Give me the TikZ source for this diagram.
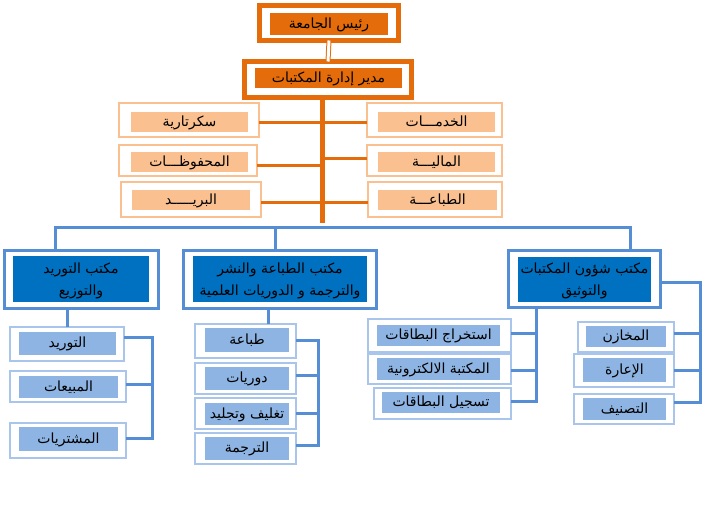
\documentclass[tikz,border=0pt]{standalone}
\usepackage{fontspec}
\newfontfamily\arabicfont[Script=Arabic]{DejaVu Sans}
\TeXXeTstate=1
\usetikzlibrary{fit}
\definecolor{orgD}{HTML}{E46C0A}
\definecolor{peach}{HTML}{FAC090}
\definecolor{blueF}{HTML}{558ED5}
\definecolor{blueD}{HTML}{0070C0}
\definecolor{blueL}{HTML}{8DB4E2}
\definecolor{blueLF}{HTML}{A9C5EB}
\newcommand\ar[1]{\beginR #1\endR}
\newcommand\bx[6]{\node[#1, minimum width={(#4-#2)*1pt}, minimum height={(#5-#3)*1pt}] (#6) at ({(#2+#4)/2},{(#3+#5)/2})}
\tikzset{
  fr/.style={inner sep=0pt, outer sep=0pt},
  arf/.style={font=\arabicfont\fontsize{14}{16}\selectfont, text height=8.5pt, text depth=0pt},
  topO/.style={fr, draw=orgD, line width=5pt},
  topI/.style={fr, fill=orgD, arf},
  peO/.style={fr, draw=peach, line width=2pt},
  peI/.style={fr, fill=peach, arf},
  blO/.style={fr, draw=blueF, line width=3pt},
  blI/.style={fr, fill=blueD, align=center, text depth=0pt, font=\arabicfont\fontsize{14}{22}\selectfont},
  chO/.style={fr, draw=blueLF, line width=2pt},
  chI/.style={fr, fill=blueL, arf},
  oline/.style={draw=orgD, line width=3pt},
  bline/.style={draw=blueF, line width=3pt},
}
\begin{document}
\begin{tikzpicture}[x=1pt,y=-1pt]
\useasboundingbox (0,0) rectangle (720,511);
\fill[white] (0,0) rectangle (720,511);

% top level
\node[topO, fit={(259.5,5.5)(398.5,40.5)}] (presO) {};
\bx{topI}{270}{13}{388}{35}{pres} {\ar{رئيس الجامعة}};
\node[topO, fit={(244.5,61.5)(411.5,97.5)}] (mgrO) {};
\bx{topI}{255}{68}{402}{88}{mgr} {\ar{مدير إدارة المكتبات}};
\draw[draw=orgD, line width=1pt, double=white, double distance=3pt] (presO.south) -- (mgrO.north);

% peach boxes
\node[peO, fit={(119,103)(259,137)}] (secO) {};
\bx{peI}{131}{112}{248}{132}{sec} {\ar{سكرتارية}};
\node[peO, fit={(119,145)(257,176)}] (arcO) {};
\bx{peI}{131}{152}{248}{172}{arc} {\ar{المحفوظـــات}};
\node[peO, fit={(121,182)(261,217)}] (maiO) {};
\bx{peI}{132}{190}{250}{210}{mai} {\ar{البريـــــد}};
\node[peO, fit={(367,103)(502,137)}] (serO) {};
\bx{peI}{378}{112}{495}{132}{ser} {\ar{الخدمـــات}};
\node[peO, fit={(367,145)(502,176)}] (finO) {};
\bx{peI}{378}{152}{495}{172}{fin} {\ar{الماليـــة}};
\node[peO, fit={(368,182)(502,217)}] (prnO) {};
\bx{peI}{378}{190}{497}{210}{prn} {\ar{الطباعـــة}};

% trunk
\coordinate (tkB) at (322,223);
\draw[orgD, line width=5pt] (mgrO.south -| tkB) -- (tkB);
\coordinate (s1) at ([yshift=-2pt]secO.east);
\coordinate (s2) at ([yshift=-4.5pt]arcO.east);
\coordinate (s3) at ([yshift=-2.5pt]maiO.east);
\coordinate (s4) at ([yshift=-2pt]serO.west);
\coordinate (s5) at ([yshift=2.5pt]finO.west);
\coordinate (s6) at ([yshift=-2.5pt]prnO.west);
\draw[oline] (s1) -- (s1 -| tkB);
\draw[oline] (s2) -- (s2 -| tkB);
\draw[oline] (s3) -- (s3 -| tkB);
\draw[oline] (s4) -- (s4 -| tkB);
\draw[oline] (s5) -- (s5 -| tkB);
\draw[oline] (s6) -- (s6 -| tkB);

% blue offices
\node[blO, fit={(4.5,250.5)(158.5,308.5)}] (boxAO) {};
\bx{blI}{13}{256}{149}{302}{boxA} {\ar{مكتب التوريد}\\\ar{والتوزيع}};
\node[blO, fit={(183.5,250.5)(376.5,308.5)}] (boxBO) {};
\bx{blI}{193}{256}{367}{302}{boxB} {\ar{مكتب الطباعة والنشر}\\\ar{والترجمة و الدوريات العلمية}};
\node[blO, fit={(508.5,250.5)(660.5,307.5)}] (boxCO) {};
\bx{blI}{518}{257}{651}{302}{boxC} {\ar{مكتب شؤون المكتبات}\\\ar{والتوثيق}};

\coordinate (bL) at (55,227);
\coordinate (bM) at (275,227);
\coordinate (bR) at (630,227);
\draw[bline] (boxAO.north -| bL) -- (bL) -- (bR) -- (boxCO.north -| bR);
\draw[bline] (bM) -- (boxBO.north -| bM);

% left column
\node[chO, fit={(10,327)(124,361)}] (tawO) {};
\bx{chI}{19}{332}{116}{355}{taw} {\ar{التوريد}};
\node[chO, fit={(10,371)(126,402)}] (mabO) {};
\bx{chI}{19}{376}{118}{398}{mab} {\ar{المبيعات}};
\node[chO, fit={(10,423)(126,458)}] (musO) {};
\bx{chI}{19}{427}{118}{451}{mus} {\ar{المشتريات}};
\coordinate (dA) at (67,0);
\draw[bline] (boxAO.south -| dA) -- (tawO.north -| dA);
\coordinate (brA) at (152,0);
\coordinate (a1) at ([yshift=7pt]tawO.east);
\coordinate (a2) at ([yshift=2.5pt]mabO.east);
\coordinate (a3) at ([yshift=2.5pt]musO.east);
\draw[bline] (a1) -- (a1 -| brA) -- (a3 -| brA) -- (a3);
\draw[bline] (a2) -- (a2 -| brA);

% middle column
\node[chO, fit={(195,324)(296,358)}] (tibO) {};
\bx{chI}{205}{328}{289}{352}{tib} {\ar{طباعة}};
\node[chO, fit={(195,363)(296,394)}] (dawO) {};
\bx{chI}{205}{367}{289}{390}{daw} {\ar{دوريات}};
\node[chO, fit={(195,398)(296,429)}] (tagO) {};
\bx{chI}{205}{403}{289}{425}{tag} {\ar{تغليف وتجليد}};
\node[chO, fit={(195,433)(296,464)}] (tarO) {};
\bx{chI}{205}{437}{289}{460}{tar} {\ar{الترجمة}};
\coordinate (dB) at (268,0);
\draw[bline] (boxBO.south -| dB) -- (tibO.north -| dB);
\coordinate (brB) at (318,0);
\coordinate (b1) at ([yshift=1pt]tibO.east);
\coordinate (b2) at ([yshift=3.5pt]dawO.east);
\coordinate (b3) at ([yshift=0.5pt]tagO.east);
\coordinate (b4) at ([yshift=3.5pt]tarO.east);
\draw[bline] (b1) -- (b1 -| brB) -- (b4 -| brB) -- (b4);
\draw[bline] (b2) -- (b2 -| brB);
\draw[bline] (b3) -- (b3 -| brB);

% right-middle column
\node[chO, fit={(368,319)(511,352)}] (istO) {};
\bx{chI}{377}{325}{500}{346}{ist} {\ar{استخراج البطاقات}};
\node[chO, fit={(368,354)(511,384)}] (eleO) {};
\bx{chI}{377}{358}{500}{380}{ele} {\ar{المكتبة الالكترونية}};
\node[chO, fit={(374,388)(511,419)}] (tsjO) {};
\bx{chI}{382}{392}{500}{413}{tsj} {\ar{تسجيل البطاقات}};
\coordinate (brC) at (536,0);
\coordinate (c1) at ([yshift=2.5pt]istO.east);
\coordinate (c2) at ([yshift=-1pt]eleO.east);
\coordinate (c3) at ([yshift=2.5pt]tsjO.east);
\draw[bline] (boxCO.south -| brC) -- (c3 -| brC) -- (c3);
\draw[bline] (c1) -- (c1 -| brC);
\draw[bline] (c2) -- (c2 -| brC);

% right column
\node[chO, fit={(578,322)(674,352)}] (makO) {};
\bx{chI}{586}{326}{666}{347}{mak} {\ar{المخازن}};
\node[chO, fit={(574,354)(674,387)}] (iaaO) {};
\bx{chI}{583}{358}{666}{382}{iaa} {\ar{الإعارة}};
\node[chO, fit={(574,394)(674,424)}] (tsnO) {};
\bx{chI}{583}{398}{666}{420}{tsn} {\ar{التصنيف}};
\coordinate (brD) at (700,0);
\coordinate (d0) at ([yshift=-3pt]boxCO.east);
\coordinate (d1) at ([yshift=4pt]makO.east);
\coordinate (d2) at (iaaO.east);
\coordinate (d3) at ([yshift=7pt]tsnO.east);
\draw[bline] (d0) -- (d0 -| brD) -- (d3 -| brD) -- (d3);
\draw[bline] (d1) -- (d1 -| brD);
\draw[bline] (d2) -- (d2 -| brD);
\end{tikzpicture}
\end{document}
